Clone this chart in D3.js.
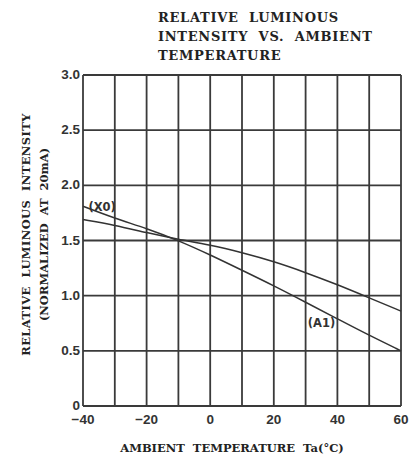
<!DOCTYPE html>
<html>
<head>
<meta charset="utf-8">
<style>
    body { margin: 0; background: #fff; }
    svg { display: block; }
    .grid line { stroke: #3a3a3a; stroke-width: 1.8; }
    .tick-label { font-family: 'Liberation Sans', Arial, sans-serif; font-size: 13.5px; font-weight: bold; fill: #333; }
    .title { font-family: 'DejaVu Serif', serif; font-size: 13px; font-weight: bold; fill: #222; letter-spacing: 0.7px; }
    .axis-title { font-family: 'DejaVu Serif', serif; font-size: 11.5px; font-weight: bold; fill: #222; }
    .curve { fill: none; stroke: #333; stroke-width: 1.5; }
    .curve-label { font-family: 'DejaVu Sans', sans-serif; font-size: 11.5px; font-weight: bold; fill: #333; }
</style>
</head>
<body>
<svg width="413" height="463"></svg>

<script src="https://d3js.org/d3.v7.min.js"></script>
<script>
    // values
    let temps = [-40, -30, -20, -10, 0, 10, 20, 30, 40, 50, 60];
    let seriesX0 = [1.69, 1.64, 1.57, 1.51, 1.46, 1.39, 1.31, 1.21, 1.10, 0.98, 0.86];
    let seriesA1 = [1.81, 1.70, 1.61, 1.50, 1.37, 1.23, 1.09, 0.94, 0.79, 0.64, 0.50];
    let xTicks = [-40, -20, 0, 20, 40, 60];
    let yTicks = [0, 0.5, 1.0, 1.5, 2.0, 2.5, 3.0];
    let titleLines = ["RELATIVE  LUMINOUS", "INTENSITY  VS.  AMBIENT", "TEMPERATURE"];

    let svg = d3.select("svg");
    let margin = { top: 75, right: 12, bottom: 57, left: 83 };
    let width = 413 - margin.left - margin.right;
    let height = 463 - margin.top - margin.bottom;

    let x = d3.scaleLinear().domain([-40, 60]).range([margin.left, margin.left + width]);
    let y = d3.scaleLinear().domain([0, 3]).range([margin.top + height, margin.top]);

    // grid
    let grid = svg.append("g").attr("class", "grid");
    grid.selectAll(".v")
        .data(d3.range(-40, 61, 10))
        .join("line")
        .attr("x1", d => x(d)).attr("x2", d => x(d))
        .attr("y1", y(0)).attr("y2", y(3));
    grid.selectAll(".h")
        .data(yTicks)
        .join("line")
        .attr("x1", x(-40)).attr("x2", x(60))
        .attr("y1", d => y(d)).attr("y2", d => y(d));

    // tick labels
    svg.append("g").selectAll("text")
        .data(yTicks)
        .join("text")
        .attr("class", "tick-label")
        .attr("x", x(-40) - 3)
        .attr("y", d => y(d) + 4)
        .attr("text-anchor", "end")
        .text(d => d === 0 ? "0" : d3.format(".1f")(d));

    svg.append("g").selectAll("text")
        .data(xTicks)
        .join("text")
        .attr("class", "tick-label")
        .attr("x", d => x(d))
        .attr("y", y(0) + 18)
        .attr("text-anchor", "middle")
        .text(d => d < 0 ? "\u2212" + Math.abs(d) : d);

    // curves
    let line = d3.line()
        .x((d, i) => x(temps[i]))
        .y(d => y(d))
        .curve(d3.curveBasis);

    svg.append("path").attr("class", "curve").attr("d", line(seriesX0));
    svg.append("path").attr("class", "curve").attr("d", line(seriesA1));

    svg.append("text")
        .attr("class", "curve-label")
        .attr("x", x(-38.3)).attr("y", y(1.77))
        .text("(X0)");
    svg.append("text")
        .attr("class", "curve-label")
        .attr("x", x(30.7)).attr("y", y(0.72))
        .text("(A1)");

    // title
    svg.append("g").selectAll("text")
        .data(titleLines)
        .join("text")
        .attr("class", "title")
        .attr("x", 158)
        .attr("y", (d, i) => 22 + i * 19)
        .style("white-space", "pre")
        .text(d => d);

    // axis titles
    svg.append("text")
        .attr("class", "axis-title")
        .attr("x", 232)
        .attr("y", 452)
        .attr("text-anchor", "middle")
        .style("white-space", "pre")
        .text("AMBIENT  TEMPERATURE  Ta(\u00B0C)");

    let yt = svg.append("g").attr("transform", "translate(0," + (y(1.5) - 6) + ")");
    yt.append("text")
        .attr("class", "axis-title")
        .attr("transform", "translate(30,0) rotate(-90)")
        .attr("text-anchor", "middle")
        .style("white-space", "pre")
        .style("letter-spacing", "0.4px")
        .text("RELATIVE  LUMINOUS  INTENSITY");
    yt.append("text")
        .attr("class", "axis-title")
        .attr("transform", "translate(48,0) rotate(-90)")
        .attr("text-anchor", "middle")
        .style("white-space", "pre")
        .text("(NORMALIZED  AT  20mA)");
</script>
</body>
</html>
